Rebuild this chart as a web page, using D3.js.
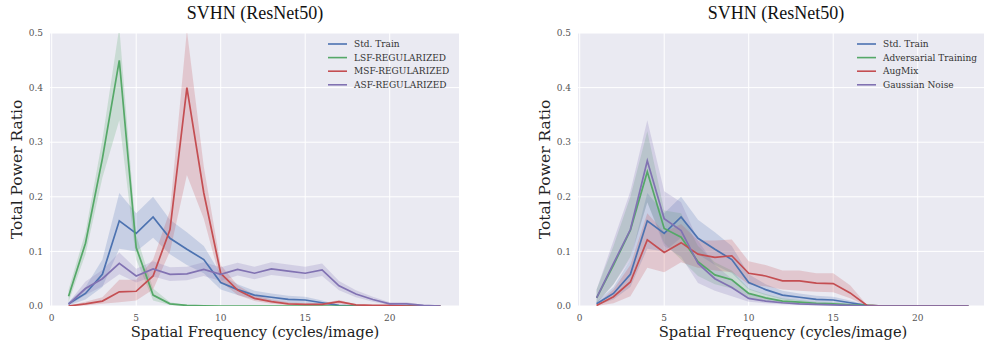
<!DOCTYPE html>
<html>
<head>
<meta charset="utf-8">
<script src="https://cdn.jsdelivr.net/npm/d3@7"></script>
<style>
  body { margin: 0; background: #fff; }
  svg { display: block; }
</style>
</head>
<body>
<div id="chart"></div>
<script>
let width = 984;
let height = 345;

// spatial frequency (cycles/image)
let freqs = d3.range(1, 24);
let xTicks = [0, 5, 10, 15, 20];
let yTicks = [0, 0.1, 0.2, 0.3, 0.4, 0.5];

// shared baseline
let stdTrain   = [0.004,0.023,0.058,0.156,0.133,0.163,0.124,0.104,0.085,0.043,0.030,0.020,0.016,0.012,0.011,0.006,0.001,0,0,0,0,0,0];
let stdTrainLo = [0.001,0.012,0.035,0.105,0.100,0.125,0.095,0.075,0.060,0.030,0.020,0.012,0.009,0.006,0.005,0.002,0,0,0,0,0,0,0];
let stdTrainHi = [0.008,0.035,0.085,0.207,0.170,0.200,0.158,0.135,0.110,0.058,0.040,0.028,0.023,0.019,0.017,0.010,0.002,0,0,0,0,0,0];

// left panel
let lsf   = [0.018,0.115,0.270,0.450,0.107,0.020,0.004,0.001,0.0005,0,0,0,0,0,0,0,0,0,0,0,0,0,0];
let lsfLo = [0.008,0.095,0.235,0.340,0.085,0.010,0.002,0,0,0,0,0,0,0,0,0,0,0,0,0,0,0,0];
let lsfHi = [0.030,0.135,0.305,0.510,0.130,0.032,0.007,0.002,0.001,0,0,0,0,0,0,0,0,0,0,0,0,0,0];

let msf   = [0,0.004,0.009,0.026,0.027,0.055,0.140,0.400,0.207,0.060,0.029,0.014,0.008,0.004,0.003,0.003,0.008,0.002,0.001,0.001,0,0,0];
let msfLo = [0,0.001,0.004,0.007,0.010,0.030,0.100,0.240,0.160,0.045,0.020,0.009,0.004,0.002,0.001,0.001,0.004,0.001,0,0,0,0,0];
let msfHi = [0.001,0.008,0.016,0.048,0.048,0.085,0.175,0.505,0.255,0.075,0.038,0.020,0.012,0.007,0.005,0.005,0.011,0.003,0.002,0.002,0.001,0,0];

let asf   = [0.003,0.032,0.050,0.078,0.055,0.068,0.058,0.059,0.067,0.058,0.067,0.060,0.068,0.064,0.060,0.066,0.037,0.022,0.012,0.004,0.004,0.001,0];
let asfLo = [0.001,0.020,0.036,0.058,0.043,0.054,0.046,0.047,0.055,0.046,0.056,0.049,0.057,0.053,0.049,0.055,0.029,0.016,0.008,0.002,0.002,0,0];
let asfHi = [0.006,0.045,0.066,0.098,0.068,0.082,0.071,0.072,0.080,0.071,0.079,0.072,0.080,0.076,0.072,0.078,0.046,0.029,0.017,0.007,0.007,0.002,0];

// right panel
let adv   = [0.015,0.075,0.139,0.246,0.142,0.126,0.081,0.057,0.048,0.023,0.015,0.009,0.007,0.005,0.004,0.002,0.001,0,0,0,0,0,0];
let advLo = [0.005,0.040,0.090,0.190,0.115,0.085,0.055,0.040,0.032,0.015,0.009,0.005,0.003,0.002,0.001,0.001,0,0,0,0,0,0,0];
let advHi = [0.030,0.110,0.200,0.320,0.175,0.170,0.110,0.080,0.065,0.032,0.022,0.014,0.011,0.008,0.007,0.004,0.002,0,0,0,0,0,0];

let aug   = [0.001,0.017,0.044,0.121,0.098,0.116,0.095,0.089,0.092,0.060,0.055,0.046,0.046,0.042,0.041,0.024,0.001,0,0,0,0,0,0];
let augLo = [0,0.005,0.018,0.070,0.062,0.080,0.070,0.065,0.062,0.040,0.036,0.030,0.028,0.026,0.025,0.014,0,0,0,0,0,0,0];
let augHi = [0.003,0.030,0.075,0.170,0.135,0.150,0.120,0.120,0.122,0.082,0.075,0.065,0.065,0.060,0.060,0.038,0.002,0,0,0,0,0,0];

let gauss   = [0.015,0.078,0.140,0.266,0.160,0.138,0.078,0.050,0.034,0.014,0.009,0.006,0.004,0.003,0.002,0.001,0,0,0,0,0,0,0];
let gaussLo = [0.004,0.040,0.085,0.190,0.110,0.090,0.042,0.028,0.018,0.008,0.005,0.003,0.002,0.001,0.001,0,0,0,0,0,0,0,0];
let gaussHi = [0.030,0.120,0.210,0.340,0.210,0.190,0.120,0.075,0.050,0.022,0.014,0.009,0.007,0.005,0.003,0.002,0.001,0,0,0,0,0,0];

let colors = ["#4C72B0", "#55A868", "#C44E52", "#8172B2"];

let leftSeries = [
    {name: "Std. Train", mean: stdTrain, lo: stdTrainLo, hi: stdTrainHi},
    {name: "LSF-REGULARIZED", mean: lsf, lo: lsfLo, hi: lsfHi},
    {name: "MSF-REGULARIZED", mean: msf, lo: msfLo, hi: msfHi},
    {name: "ASF-REGULARIZED", mean: asf, lo: asfLo, hi: asfHi}
];
let rightSeries = [
    {name: "Std. Train", mean: stdTrain, lo: stdTrainLo, hi: stdTrainHi},
    {name: "Adversarial Training", mean: adv, lo: advLo, hi: advHi},
    {name: "AugMix", mean: aug, lo: augLo, hi: augHi},
    {name: "Gaussian Noise", mean: gauss, lo: gaussLo, hi: gaussHi}
];

let svg = d3.select("#chart")
    .append("svg")
    .attr("width", width)
    .attr("height", height);

let serif = "'DejaVu Serif', serif";

function drawPanel(id, left, series, legendX) {
    let top = 33, bottom = 306, w = 409;
    let x = d3.scaleLinear().domain([-0.1, 24.1]).range([left, left + w]);
    let y = d3.scaleLinear().domain([0, 0.5]).range([bottom, top]);

    let g = svg.append("g");
    g.append("clipPath").attr("id", id)
        .append("rect").attr("x", left).attr("y", top).attr("width", w).attr("height", bottom - top);

    g.append("rect")
        .attr("x", left).attr("y", top)
        .attr("width", w).attr("height", bottom - top)
        .attr("fill", "#EAEAF2");

    // grid
    g.append("g").selectAll("line").data(xTicks).join("line")
        .attr("x1", d => x(d)).attr("x2", d => x(d))
        .attr("y1", top).attr("y2", bottom)
        .attr("stroke", "#fff").attr("stroke-width", 1);
    g.append("g").selectAll("line").data(yTicks).join("line")
        .attr("x1", left).attr("x2", left + w)
        .attr("y1", d => y(d)).attr("y2", d => y(d))
        .attr("stroke", "#fff").attr("stroke-width", 1);

    let plot = g.append("g").attr("clip-path", `url(#${id})`);

    let area = d3.area()
        .x((d, i) => x(freqs[i]))
        .y0(d => y(d[0]))
        .y1(d => y(d[1]));
    let line = d3.line()
        .x((d, i) => x(freqs[i]))
        .y(d => y(d));

    series.forEach((s, k) => {
        plot.append("path")
            .datum(s.lo.map((v, i) => [v, s.hi[i]]))
            .attr("d", area)
            .attr("fill", colors[k])
            .attr("fill-opacity", 0.22);
    });
    series.forEach((s, k) => {
        plot.append("path")
            .datum(s.mean)
            .attr("d", line)
            .attr("fill", "none")
            .attr("stroke", colors[k])
            .attr("stroke-width", 1.7);
    });

    // tick labels
    g.append("g")
        .attr("font-family", serif).attr("font-size", 9).attr("fill", "#555")
        .attr("text-anchor", "middle")
        .selectAll("text").data(xTicks).join("text")
        .attr("x", d => x(d)).attr("y", 321)
        .text(d => d);
    g.append("g")
        .attr("font-family", serif).attr("font-size", 9).attr("fill", "#555")
        .attr("text-anchor", "end")
        .selectAll("text").data(yTicks).join("text")
        .attr("x", left - 7).attr("y", d => y(d)).attr("dy", "0.35em")
        .text(d => d.toFixed(1));

    // axis labels
    g.append("text")
        .attr("x", left + 205).attr("y", 337)
        .attr("text-anchor", "middle")
        .attr("font-family", serif).attr("font-size", 14.7).attr("fill", "#222")
        .text("Spatial Frequency (cycles/image)");
    g.append("text")
        .attr("transform", `translate(${left - 28},${(top + bottom) / 2}) rotate(-90)`)
        .attr("text-anchor", "middle")
        .attr("font-family", serif).attr("font-size", 15.5).attr("fill", "#222")
        .text("Total Power Ratio");

    // legend
    let leg = g.append("g")
        .attr("font-family", serif).attr("font-size", 9).attr("fill", "#333");
    series.forEach((s, k) => {
        let ly = 44 + k * 13.6;
        leg.append("line")
            .attr("x1", legendX).attr("x2", legendX + 19)
            .attr("y1", ly).attr("y2", ly)
            .attr("stroke", colors[k]).attr("stroke-width", 1.6);
        leg.append("text")
            .attr("x", legendX + 26).attr("y", ly).attr("dy", "0.35em")
            .text(s.name);
    });
}

drawPanel("clipL", 50, leftSeries, 328);
drawPanel("clipR", 578, rightSeries, 857);

// titles
svg.append("text")
    .attr("x", 255).attr("y", 19)
    .attr("text-anchor", "middle")
    .attr("font-family", "'Liberation Serif', serif").attr("font-size", 18).attr("fill", "#111")
    .text("SVHN (ResNet50)");
svg.append("text")
    .attr("x", 776).attr("y", 19)
    .attr("text-anchor", "middle")
    .attr("font-family", "'Liberation Serif', serif").attr("font-size", 18).attr("fill", "#111")
    .text("SVHN (ResNet50)");
</script>
</body>
</html>
